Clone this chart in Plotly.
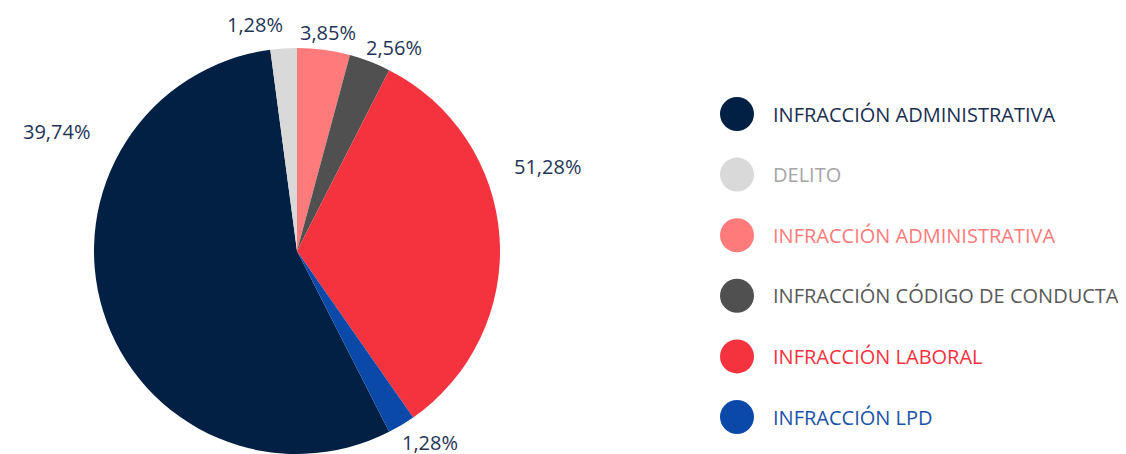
import plotly.graph_objects as go

# ---- data ----
categories = [
    "INFRACCIÓN ADMINISTRATIVA",
    "DELITO",
    "INFRACCIÓN ADMINISTRATIVA",
    "INFRACCIÓN CÓDIGO DE CONDUCTA",
    "INFRACCIÓN LABORAL",
    "INFRACCIÓN LPD",
]
# slice sizes as drawn in the picture (percent of the circle)
slice_values = [55.4, 2.1, 4.2, 3.3, 32.8, 2.2]
# percentage labels as printed on the chart
pct_labels = ["39,74%", "1,28%", "3,85%", "2,56%", "51,28%", "1,28%"]

slice_colors = ["#021f44", "#d9d9d9", "#ff7b7b", "#505050", "#f5333f", "#0a49a8"]
legend_text_colors = ["#1a2e4f", "#a6a6a6", "#ff7b7b", "#595959", "#f5333f", "#1a52a8"]

W, H = 1126, 454
FONT = "Open Sans"
# the page body adds an 8px margin; compensate so screen pixels match
OX, OY = 8, 8

def px_x(x):
    return (x - OX) / W

def px_y(y):
    return 1 - (y - OY) / H

# pie geometry (screen pixels)
cx, cy, r = 297, 251, 203

total = sum(slice_values)
# light-gray slice ends exactly at 12 o'clock
rotation = -(slice_values[0] + slice_values[1]) / total * 360.0

fig = go.Figure()
fig.add_trace(go.Pie(
    labels=[f"{c} {i}" for i, c in enumerate(categories)],
    values=slice_values,
    sort=False,
    direction="clockwise",
    rotation=rotation,
    marker=dict(colors=slice_colors, line=dict(width=0)),
    textinfo="none",
    hoverinfo="skip",
    showlegend=False,
    domain=dict(x=[px_x(cx - r), px_x(cx + r)],
                y=[px_y(cy + r), px_y(cy - r)]),
))

# percentage labels (screen pixel centre positions)
label_pos = [(56, 131), (255, 25), (328, 33), (394, 47), (547, 166), (430, 442)]
annotations = []
for (px, py), txt in zip(label_pos, pct_labels):
    annotations.append(dict(
        x=px_x(px), y=px_y(py), xref="paper", yref="paper",
        text=txt, showarrow=False, xanchor="center", yanchor="middle",
        font=dict(family=FONT, size=20, color="#1f3456"),
    ))

# custom legend with circular markers
shapes = []
leg_x, leg_r, leg_text_x = 737, 17, 771
leg_y0, leg_dy = 114, 60.6
for i, (name, col, tcol) in enumerate(zip(categories, slice_colors, legend_text_colors)):
    yy = leg_y0 + i * leg_dy
    shapes.append(dict(
        type="circle", xref="paper", yref="paper",
        x0=px_x(leg_x - leg_r), x1=px_x(leg_x + leg_r),
        y0=px_y(yy + leg_r), y1=px_y(yy - leg_r),
        fillcolor=col, line=dict(width=0),
    ))
    annotations.append(dict(
        x=px_x(leg_text_x), y=px_y(yy), xref="paper", yref="paper",
        text=name, showarrow=False, xanchor="left", yanchor="middle",
        font=dict(family=FONT, size=20, color=tcol),
    ))

fig.update_layout(
    width=W, height=H,
    margin=dict(l=0, r=0, t=0, b=0),
    paper_bgcolor="white", plot_bgcolor="white",
    annotations=annotations, shapes=shapes,
    font=dict(family=FONT),
)

fig.write_html("out.html")
